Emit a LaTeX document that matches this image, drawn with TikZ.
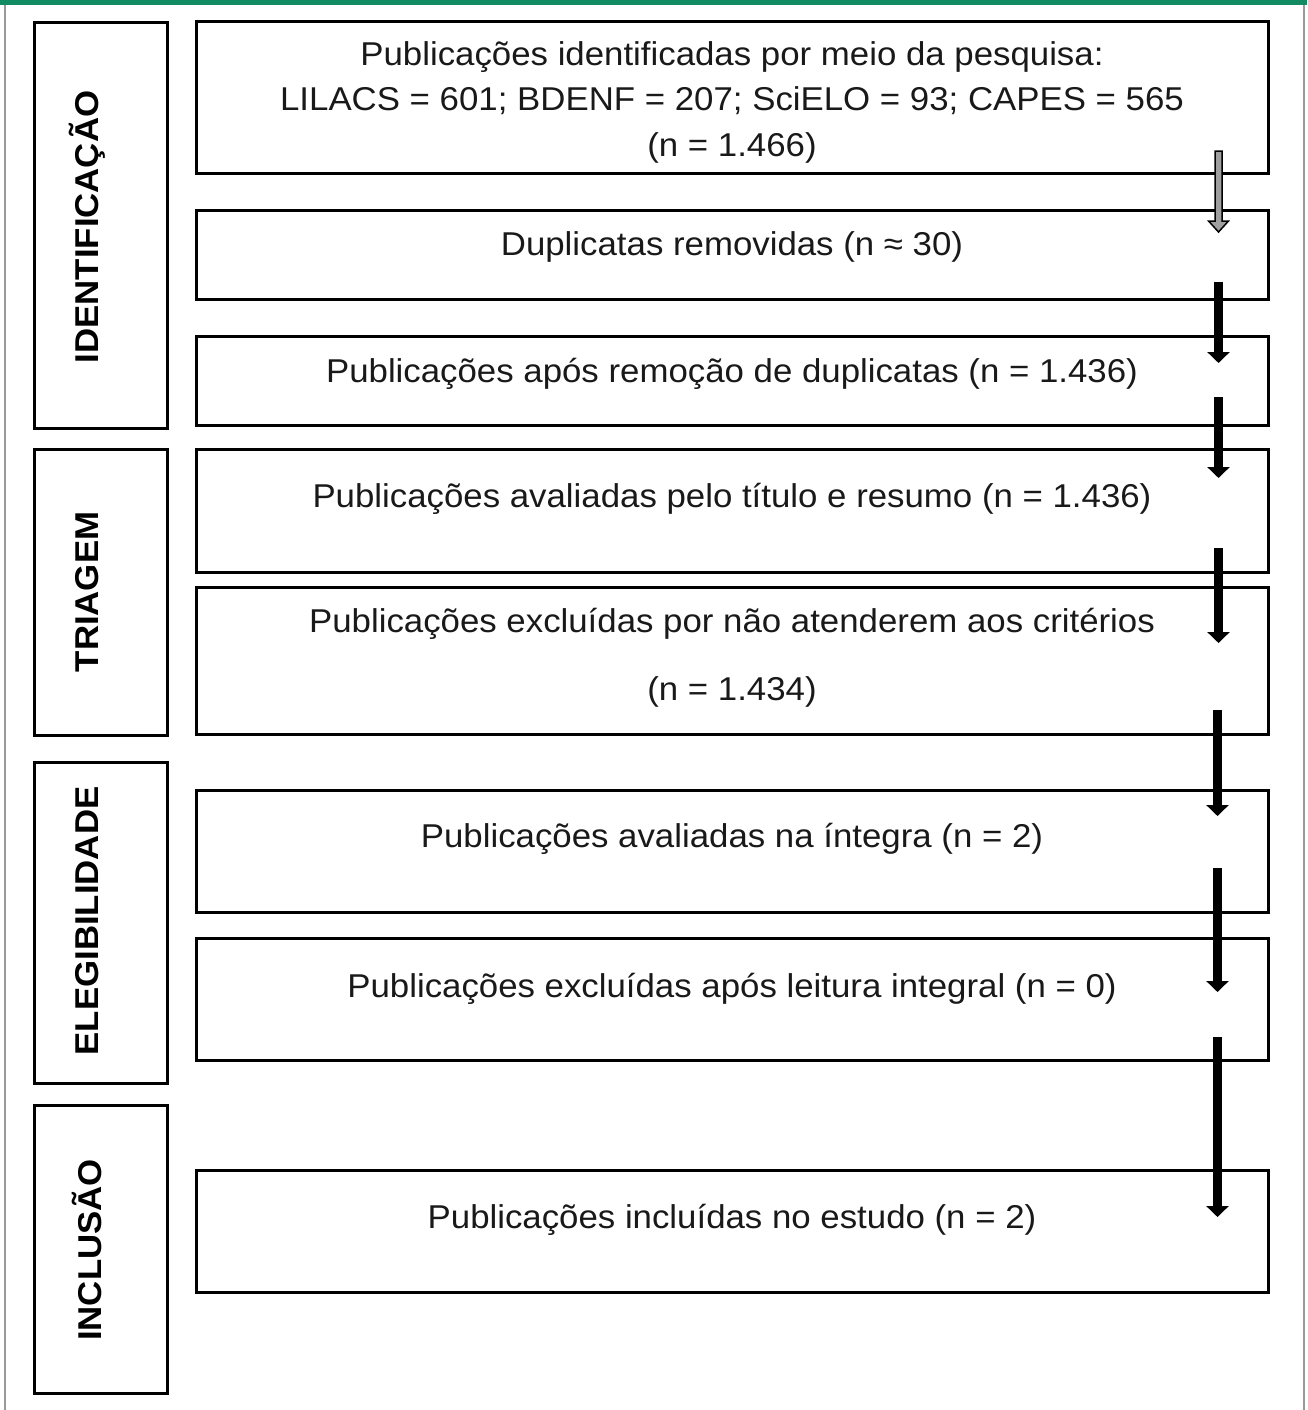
\documentclass[tikz,border=0pt]{standalone}
\usepackage{fontspec}
\setmainfont[FakeStretch=1.055]{Liberation Sans}
\usetikzlibrary{arrows.meta,positioning,calc}
\definecolor{topgreen}{RGB}{18,138,98}
\definecolor{txt}{RGB}{25,25,25}
\tikzset{
  stagebox/.style={draw=black,line width=3pt,minimum width=133pt,inner sep=0pt},
  flowbox/.style={draw=black,line width=3pt,minimum width=1072pt,inner sep=0pt},
  bodytext/.style={anchor=base,text=txt,inner sep=0pt,font=\fontsize{33}{40}\selectfont},
  stagelabel/.style={rotate=90,text=black,inner sep=0pt,font=\fontsize{33}{40}\selectfont\bfseries},
  blackarrow/.style={line width=9pt,-{Triangle[width=22pt,length=11pt]}},
  grayarrow/.style={draw=black,line width=1.5pt,fill=gray!75}
}
\begin{document}
\begin{tikzpicture}[x=1pt,y=-1pt]
\useasboundingbox (0,0) rectangle (1307,1410);
% frame
\fill[topgreen] (0,0) rectangle (1307,5);
\draw[gray!80,line width=1.5pt] (5,5) -- (5,1410);
\draw[gray!80,line width=1.5pt] (1304,5) -- (1304,1410);

% stage boxes
\node[stagebox,minimum height=405pt] (s1) at (100.5,225.5) {};
\node[stagebox,minimum height=286pt] (s2) at (100.5,592) {};
\node[stagebox,minimum height=321pt] (s3) at (100.5,922.5) {};
\node[stagebox,minimum height=288pt] (s4) at (100.5,1249) {};
\node[stagelabel] (l1) at (87,227) {IDENTIFICAÇÃO};
\node[stagelabel] (l2) at (87,592) {TRIAGEM};
\node[stagelabel] (l3) at (87,921) {ELEGIBILIDADE};
\node[stagelabel] (l4) at (87,1250) {INCLUSÃO};

% flow boxes
\node[flowbox,minimum height=151pt] (b1) at (732,97.5) {};
\node[flowbox,minimum height=89pt] (b2) at (732,254.5) {};
\node[flowbox,minimum height=89pt] (b3) at (732,380.5) {};
\node[flowbox,minimum height=123pt] (b4) at (732,510.5) {};
\node[flowbox,minimum height=147pt] (b5) at (732,660.5) {};
\node[flowbox,minimum height=122pt] (b6) at (732,851.5) {};
\node[flowbox,minimum height=122pt] (b7) at (732,999) {};
\node[flowbox,minimum height=122pt] (b8) at (732,1231) {};

% texts
\node[bodytext] (t1a) at (732,66) {Publicações identificadas por meio da pesquisa:};
\node[bodytext] (t1b) at (732,111) {LILACS = 601; BDENF = 207; SciELO = 93; CAPES = 565};
\node[bodytext] (t1c) at (732,156) {(n = 1.466)};
\node[bodytext] (t2) at (732,255) {Duplicatas removidas (n ≈ 30)};
\node[bodytext] (t3) at (732,382) {Publicações após remoção de duplicatas (n = 1.436)};
\node[bodytext] (t4) at (732,507) {Publicações avaliadas pelo título e resumo (n = 1.436)};
\node[bodytext] (t5a) at (732,632) {Publicações excluídas por não atenderem aos critérios};
\node[bodytext] (t5b) at (732,700) {(n = 1.434)};
\node[bodytext] (t6) at (732,847) {Publicações avaliadas na íntegra (n = 2)};
\node[bodytext] (t7) at (732,997) {Publicações excluídas após leitura integral (n = 0)};
\node[bodytext] (t8) at (732,1228) {Publicações incluídas no estudo (n = 2)};

% arrows
\coordinate (a1s) at (1218.5,151);
\coordinate (a1e) at (1218.5,232);
\draw[grayarrow] ([xshift=-3.5pt]a1s) -- ([xshift=3.5pt]a1s)
  -- ([xshift=3.5pt,yshift=11pt]a1e) -- ([xshift=10pt,yshift=11pt]a1e)
  -- (a1e) -- ([xshift=-10pt,yshift=11pt]a1e)
  -- ([xshift=-3.5pt,yshift=11pt]a1e) -- cycle;
\coordinate (a2s) at (1218.5,282);
\coordinate (a2e) at (1218.5,363);
\coordinate (a3s) at (1218.5,397);
\coordinate (a3e) at (1218.5,478);
\coordinate (a4s) at (1218.5,548);
\coordinate (a4e) at (1218.5,643);
\coordinate (a5s) at (1217.5,710);
\coordinate (a5e) at (1217.5,816);
\coordinate (a6s) at (1217.5,868);
\coordinate (a6e) at (1217.5,992);
\coordinate (a7s) at (1217.5,1037);
\coordinate (a7e) at (1217.5,1217);
\draw[blackarrow] (a2s) -- (a2e);
\draw[blackarrow] (a3s) -- (a3e);
\draw[blackarrow] (a4s) -- (a4e);
\draw[blackarrow] (a5s) -- (a5e);
\draw[blackarrow] (a6s) -- (a6e);
\draw[blackarrow] (a7s) -- (a7e);
\end{tikzpicture}
\end{document}
